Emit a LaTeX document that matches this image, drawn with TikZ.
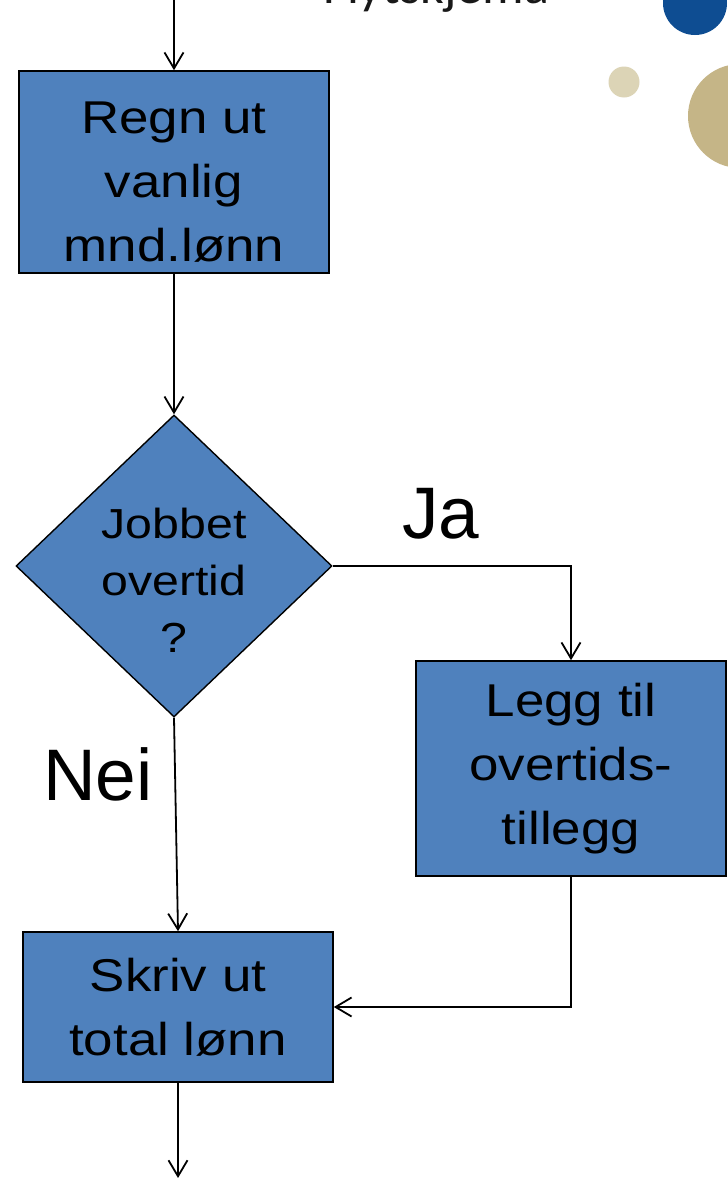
\documentclass[tikz,border=0pt]{standalone}
\usepackage{fontspec}
\setmainfont{Liberation Sans}
\newfontfamily\boxfont{Liberation Sans}[FakeStretch=1.15]
\newfontfamily\titlefont{Carlito}
\usetikzlibrary{shapes.geometric,arrows.meta}
\definecolor{boxblue}{HTML}{4F81BD}
\definecolor{dotblue}{HTML}{0E4D92}
\definecolor{dottan}{HTML}{C5B587}
\definecolor{dotbeige}{HTML}{DCD4B6}
\begin{document}
\begin{tikzpicture}[x=1pt,y=-1pt,
  stepbox/.style={rectangle,draw=black,fill=boxblue,line width=1.6pt,
    minimum width=310pt,inner sep=0pt,align=center,
    font=\boxfont\fontsize{46}{64}\selectfont},
  decbox/.style={diamond,draw=black,fill=boxblue,line width=1.4pt,
    minimum width=316pt,minimum height=302pt,inner sep=0pt},
  dectxt/.style={align=center,inner sep=0pt,
    font=\boxfont\fontsize{42}{57}\selectfont},
  flow/.style={line width=1.8pt,-{Straight Barb[length=16pt,width=19pt,line width=1.8pt]}},
  plain/.style={line width=1.8pt},
  answer/.style={inner sep=0pt,anchor=base,font=\fontsize{73}{80}\selectfont}]
\useasboundingbox (0,0) rectangle (728,1178);
\clip (0,0) rectangle (728,1178);
\fill[white] (0,0) rectangle (728,1178);

% slide decoration and title
\fill[dotblue] (695,3) circle (32);
\fill[dotbeige] (624,82) circle (15.5);
\fill[dottan] (740,116) circle (52);
\node[inner sep=0pt,anchor=base west,text=black!90,
  font=\titlefont\fontsize{52}{60}\selectfont] (title) at (323,3) {Flytskjema};

% flowchart elements
\coordinate (start) at (174,0);
\node[stepbox,minimum height=202pt] (calc) at (174,172)
  {\rule{0pt}{51pt}Regn ut\\vanlig\\mnd.lønn};
\node[decbox] (dec) at (174,566) {};
\node[dectxt] (dectext) at (174,580) {Jobbet\\overtid\\?};
\node[stepbox,minimum height=215pt] (extra) at (571,768.5)
  {Legg til\\overtids-\\tillegg};
\node[stepbox,minimum height=150pt] (out) at (178,1007)
  {Skriv ut\\total lønn};
\coordinate (stop) at (178,1178);

\node[answer] (ja) at (441,538) {Ja};
\node[answer] (nei) at (98,800) {Nei};

% connectors
\draw[flow] (start) -- (calc.north);
\draw[flow] (calc.south) -- (dec.north);
\draw[flow] (dec.east) -| (extra.north);
\draw[flow] (dec.south) -- (out.north);
\draw[flow] (extra.south) |- (out.east);
\draw[flow] (out.south) -- (stop);
\end{tikzpicture}
\end{document}
